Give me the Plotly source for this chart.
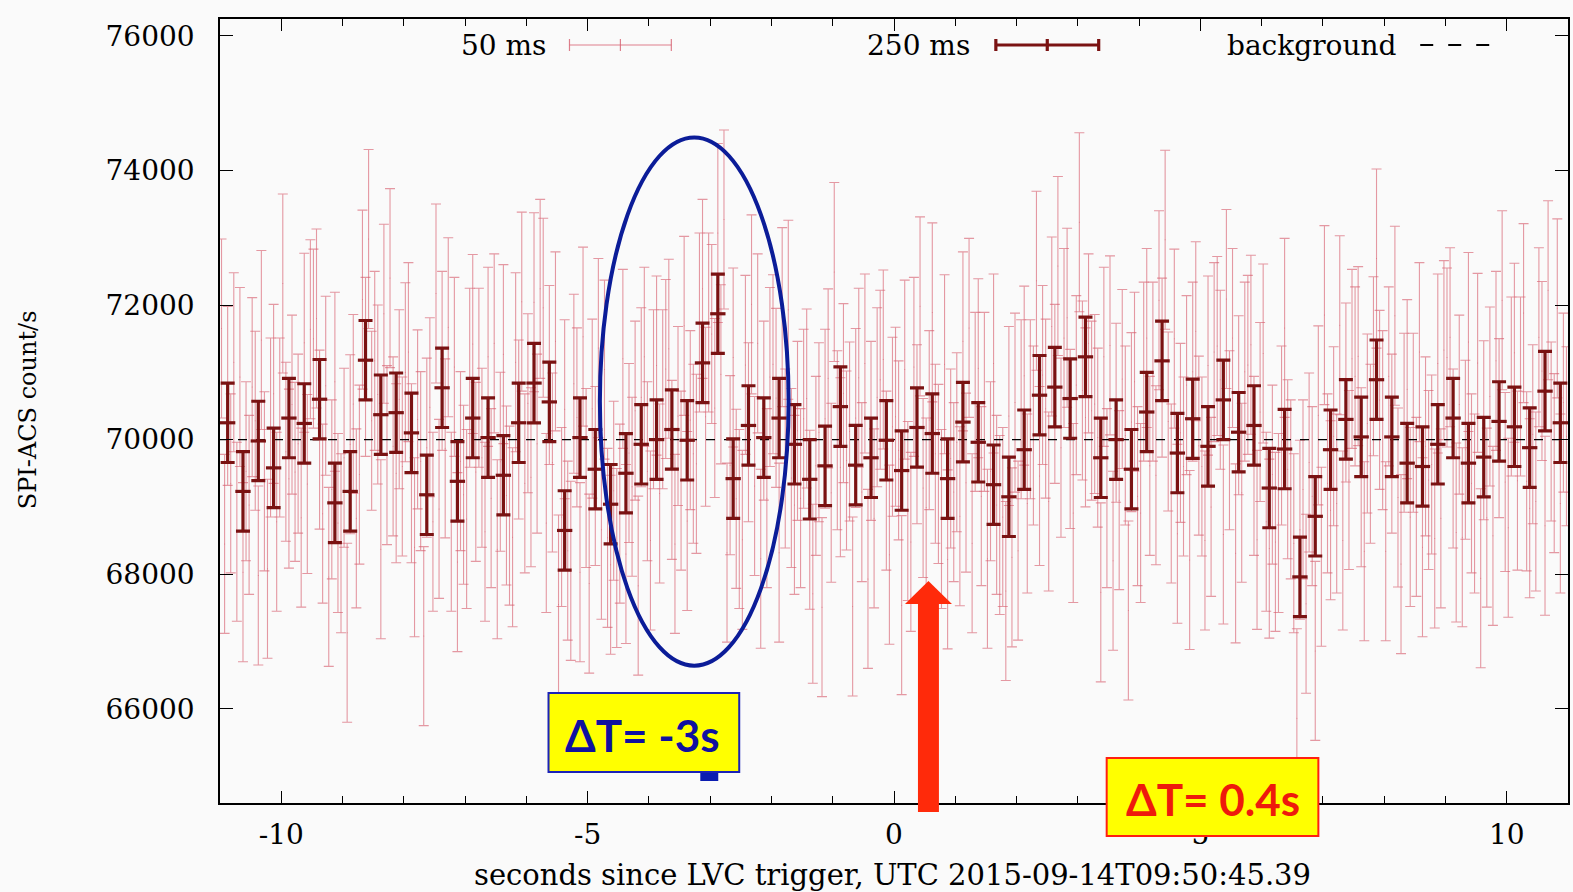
import plotly.graph_objects as go

# ---------------- data ----------------
# 250 ms bins (bin centres, seconds since trigger)
t_250ms = [round(-10.875 + 0.25 * i, 3) for i in range(88)]
rate_250ms = [
    70250, 69230, 69980, 69580, 70320, 70240, 70600, 69060, 69230, 71180,
    70370, 70400, 70100, 69180, 70770, 69380, 70320, 70030, 69470, 70250,
    70840, 70560, 68650, 70030, 69560, 69040, 69500, 69930, 70000, 70150,
    69990, 71140, 71870, 69420, 70210, 70030, 70320, 69930, 69410, 69610,
    70490, 69620, 69730, 69990, 69540, 70180, 70090, 69420, 70260, 69960,
    69330, 69150, 69850, 70660, 70780, 70610, 71230, 69730, 70000, 69560,
    70410, 71170, 69800, 70310, 69900, 70590, 70110, 70210, 69280, 69860,
    67960, 68860, 69850, 70300, 70040, 70890, 70040, 69650, 69600, 69930,
    70320, 69650, 69740, 70270, 70190, 69880, 70720, 70250,
]
ERR_250MS = 590      # c/s, half-height of the 250 ms error bars
HALF_BIN_250MS = 0.125

# 50 ms bins
t_50ms = [round(-10.975 + 0.05 * i, 3) for i in range(440)]
rate_50ms = [
    71650, 68450, 70650, 69350, 71150,  68630, 70930, 68030, 69530, 69030,
    70780, 70280, 67980, 71480, 69380,  68080, 70180, 70680, 68780, 70180,
    72320, 69820, 69420, 70520, 69520,  69940, 68840, 71440, 69340, 71640,
    71500, 71800, 70000, 68900, 70800,  67960, 69260, 70860, 68760, 68460,
    69730, 67130, 69930, 70530, 68830,  69480, 72080, 71080, 72980, 70280,
    71170, 70670, 68370, 71870, 69770,  72400, 69900, 69500, 70600, 69600,
    71000, 71300, 69500, 68400, 70300,  69680, 67080, 69880, 70480, 68780,
    72170, 68970, 71170, 69870, 71670,  68780, 71080, 68180, 69680, 69180,
    68820, 70920, 71420, 69520, 70920,  69730, 68630, 71230, 69130, 71430,
    68370, 69670, 71270, 69170, 68870,  68550, 71150, 70150, 72050, 69350,
    70540, 69440, 72040, 69940, 72240,  71960, 68760, 70960, 69660, 71460,
    67550, 68850, 70450, 68350, 68050,  70830, 70330, 68030, 71530, 69430,
    67860, 70460, 69460, 71360, 68660,  71040, 68540, 68140, 69240, 68240,
    68900, 71200, 68300, 69800, 69300,  70430, 67830, 70630, 71230, 69530,
    68500, 70600, 71100, 69200, 70600,  71050, 71350, 69550, 68450, 70350,
    69390, 71690, 68790, 70290, 69790,  69640, 71740, 72240, 70340, 71740,
    71570, 70470, 73070, 70970, 73270,  68320, 69620, 71220, 69120, 68820,
    68510, 71110, 70110, 72010, 69310,  71430, 68230, 70430, 69130, 70930,
    71120, 70620, 68320, 71820, 69720,  71930, 69430, 69030, 70130, 69130,
    70310, 70610, 68810, 67710, 69610,  70110, 67510, 70310, 70910, 69210,
    72490, 69990, 69590, 70690, 69690,  70120, 67520, 70320, 70920, 69220,
    71130, 67930, 70130, 68830, 70630,  70890, 71190, 69390, 68290, 70190,
    70340, 69840, 67540, 71040, 68940,  68480, 71080, 70080, 71980, 69280,
    68990, 70290, 71890, 69790, 69490,  68820, 71120, 68220, 69720, 69220,
    69960, 68860, 71460, 69360, 71660,  68460, 70560, 71060, 69160, 70560,
    68230, 69530, 71130, 69030, 68730,  68850, 67750, 70350, 68250, 70550,
    68350, 70450, 70950, 69050, 70450,  70060, 72360, 69460, 70960, 70460,
    69080, 71680, 70680, 72580, 69880,  71510, 71810, 70010, 68910, 70810,
    73230, 70730, 70330, 71430, 70430,  70530, 70030, 67730, 71230, 69130,
    71400, 68200, 70400, 69100, 70900,  70060, 67460, 70260, 70860, 69160,
    68910, 71010, 71510, 69610, 71010,  69470, 72070, 71070, 72970, 70270,
    69200, 71500, 68600, 70100, 69600,  70810, 68210, 71010, 71610, 69910,
    69600, 68500, 71100, 69000, 71300,  71390, 70890, 68590, 72090, 69990,
    71510, 68310, 70510, 69210, 71010,  71110, 71410, 69610, 68510, 70410,
    71280, 68780, 68380, 69480, 68480,  68760, 70060, 71660, 69560, 69260,
    68460, 65860, 68660, 69260, 67560,  69660, 69160, 66860, 70360, 68260,
    71850, 69350, 68950, 70050, 69050,  71700, 68500, 70700, 69400, 71200,
    70940, 71240, 69440, 68340, 70240,  69790, 71090, 72690, 70590, 70290,
    68340, 70940, 69940, 71840, 69140,  68150, 70250, 70750, 68850, 70250,
    69000, 71300, 68400, 69900, 69400,  69630, 68530, 71130, 68830, 71330,
    71220, 71520, 69720, 68620, 70520,  68550, 69850, 71450, 69350, 69050,
    71140, 67940, 70140, 68840, 70640,  68570, 71170, 70170, 72070, 69370,
    68690, 70790, 71290, 69390, 70790,  71880, 69380, 68980, 70080, 69080,
    71520, 71020, 68720, 72220, 70120,  69650, 71950, 69050, 70550, 70050,
]
ERR_50MS = 1330      # c/s

# background level
t_background = [-11, 11]
rate_background = [70000, 70000]

# axis tick labels
x_tickvals = [-10, -5, 0, 5, 10]
x_ticktext = ["-10", "-5", "0", "5", "10"]
y_tickvals = [66000, 68000, 70000, 72000, 74000, 76000]
y_ticktext = ["66000", "68000", "70000", "72000", "74000", "76000"]

# ---------------- styling helpers ----------------
W, H = 1573, 892
L, R, T, B = 220, 1570, 19, 803


def px(xp):
    return (xp - L) / (R - L)


def py(yp):
    return (B - yp) / (B - T)


PINK = "rgba(214,92,108,0.62)"
DARK = "#7a1212"
BLUE = "#0b1c98"
RED = "#ff2a0a"

fig = go.Figure()

fig.add_trace(go.Scatter(
    x=t_50ms, y=rate_50ms, mode="markers",
    marker=dict(size=1, color=PINK),
    error_y=dict(type="constant", value=ERR_50MS, color=PINK, thickness=1.1, width=5),
    showlegend=False, hoverinfo="skip",
))

fig.add_trace(go.Scatter(
    x=t_background, y=rate_background, mode="lines",
    line=dict(color="black", width=1.3, dash="9px,9px"),
    showlegend=False,
))

fig.add_trace(go.Scatter(
    x=t_250ms, y=rate_250ms, mode="markers",
    marker=dict(size=1, color=DARK),
    error_y=dict(type="constant", value=ERR_250MS, color=DARK, thickness=3.2, width=7),
    error_x=dict(type="constant", value=HALF_BIN_250MS, color=DARK, thickness=3.2, width=0),
    showlegend=False,
))

fig.update_layout(
    width=W, height=H,
    margin=dict(l=L, r=W - R, t=T, b=H - B),
    paper_bgcolor="#fafafa", plot_bgcolor="#fafafa",
    showlegend=False,
    font=dict(family="DejaVu Serif", size=28, color="black"),
)

fig.update_xaxes(
    range=[-11, 11], tickvals=x_tickvals, ticktext=x_ticktext,
    ticks="inside", ticklen=12, tickwidth=1.3, tickcolor="black",
    minor=dict(ticks="inside", tick0=0, dtick=1, ticklen=7, tickwidth=1.2, tickcolor="black", showgrid=False),
    showline=True, linecolor="black", linewidth=1.6, mirror="ticks",
    showgrid=False, zeroline=False, ticklabelstandoff=6,
    tickfont=dict(family="DejaVu Serif", size=28),
)
fig.update_yaxes(
    range=[64600, 76250], tickvals=y_tickvals, ticktext=y_ticktext,
    ticks="inside", ticklen=13, tickwidth=1.3, tickcolor="black",
    showline=True, linecolor="black", linewidth=1.6, mirror="ticks",
    showgrid=False, zeroline=False, ticklabelstandoff=18,
    tickfont=dict(family="DejaVu Serif", size=28),
)

shapes = []
annotations = []

# axis titles
annotations.append(dict(
    text="seconds since LVC trigger, UTC 2015-09-14T09:50:45.39",
    xref="paper", yref="paper", x=px(893), y=py(875),
    showarrow=False, font=dict(family="DejaVu Serif", size=29, color="black"),
    xanchor="center", yanchor="middle",
))
annotations.append(dict(
    text="SPI-ACS count/s", textangle=-90,
    xref="paper", yref="paper", x=px(28), y=py(410),
    showarrow=False, font=dict(family="DejaVu Serif", size=24, color="black"),
    xanchor="center", yanchor="middle",
))

# key (text left of sample, gnuplot style)
ky = py(45)
for label, xr in [("50 ms", 548), ("250 ms", 973), ("background", 1400)]:
    annotations.append(dict(
        text=label, xref="paper", yref="paper", x=px(xr), y=ky,
        xanchor="right", yanchor="middle", showarrow=False,
        font=dict(family="DejaVu Serif", size=28, color="black"),
    ))


def key_errorbar(x0, x1, color, w, capw):
    xm = (x0 + x1) / 2
    shapes.append(dict(type="line", xref="paper", yref="paper",
                       x0=px(x0), x1=px(x1), y0=ky, y1=ky, line=dict(color=color, width=w)))
    for xc in (x0, xm, x1):
        shapes.append(dict(type="line", xref="paper", yref="paper",
                           x0=px(xc), x1=px(xc), y0=py(45 - capw), y1=py(45 + capw),
                           line=dict(color=color, width=w)))


key_errorbar(570, 672, "rgba(214,96,112,0.8)", 1.2, 6)
key_errorbar(997, 1100, DARK, 3.2, 6)
shapes.append(dict(type="line", xref="paper", yref="paper",
                   x0=px(1422), x1=px(1505), y0=ky, y1=ky,
                   line=dict(color="black", width=1.8, dash="13px,15px")))

# thin black border strip at the very top of the slide
shapes.append(dict(type="rect", xref="paper", yref="paper",
                   x0=-1, x1=2, y0=py(0), y1=py(-5), fillcolor="black", line=dict(width=0)))

# blue ellipse around the -3 s excess
shapes.append(dict(type="circle", xref="x", yref="y",
                   x0=-4.80, x1=-1.72, y0=66640, y1=74490,
                   line=dict(color=BLUE, width=4), layer="above"))

# red arrow at ~0.4 s
shapes.append(dict(type="rect", xref="paper", yref="paper",
                   x0=px(919), x1=px(940), y0=py(812), y1=py(601),
                   fillcolor=RED, line=dict(width=0), layer="above"))
shapes.append(dict(type="path", xref="paper", yref="paper",
                   path=f"M {px(906)},{py(604)} L {px(929.5)},{py(581)} L {px(953)},{py(604)} Z",
                   fillcolor=RED, line=dict(width=0), layer="above"))

# yellow label boxes
shapes.append(dict(type="rect", xref="paper", yref="paper",
                   x0=px(701), x1=px(719), y0=py(781), y1=py(771),
                   fillcolor="#0b1cb0", line=dict(width=0), layer="above"))
shapes.append(dict(type="rect", xref="paper", yref="paper",
                   x0=px(549), x1=px(740), y0=py(772), y1=py(693),
                   fillcolor="#ffff00", line=dict(color="#1a22b8", width=2), layer="above"))
shapes.append(dict(type="rect", xref="paper", yref="paper",
                   x0=px(1108), x1=px(1320), y0=py(836), y1=py(758),
                   fillcolor="#ffff00", line=dict(color="#ff2010", width=2), layer="above"))

annotations.append(dict(
    text="<b>ΔT= -3s</b>", xref="paper", yref="paper", x=px(643), y=py(735),
    xanchor="center", yanchor="middle", showarrow=False,
    font=dict(family="Lato", size=44, color="#1010a0"),
))
annotations.append(dict(
    text="<b>ΔT= 0.4s</b>", xref="paper", yref="paper", x=px(1214), y=py(799),
    xanchor="center", yanchor="middle", showarrow=False,
    font=dict(family="Lato", size=44, color="#ee1a0c"),
))

fig.update_layout(shapes=shapes, annotations=annotations)

fig.write_html("out.html")
